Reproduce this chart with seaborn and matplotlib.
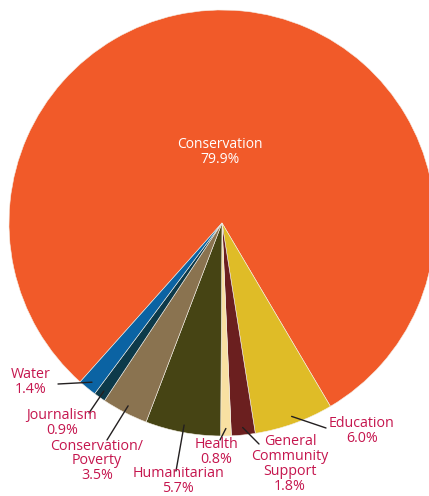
import numpy as np
import matplotlib
matplotlib.use('Agg')
import matplotlib.pyplot as plt
import seaborn as sns

# data
labels = ['Conservation', 'Education', 'General\nCommunity\nSupport', 'Health',
          'Humanitarian', 'Conservation/\nPoverty', 'Journalism', 'Water']
values = [79.9, 6.0, 1.8, 0.8, 5.7, 3.5, 0.9, 1.4]
colors = ['#f15a29', '#dfbc27', '#6b1f1f', '#f8e0a2', '#464414', '#8a7350', '#0d3a4a', '#0b63a3']

# label layout (pixel coords: text centre, leader line end)
text_pos = [(220, 152), (362, 431), (290, 464), (216, 452), (178, 481), (97, 461), (62, 423), (31, 382)]
line_end = [None, (326, 428), (259, 444), (220, 440), (176, 471), (107, 440), (89, 413), (58, 384)]

W, H = 429, 496
cx, cy, R = 222, 223, 213
start = -59.4 + 360 * values[0] / 100

sns.set_style('white')
plt.rcParams['font.family'] = ['Open Sans', 'DejaVu Sans']

fig = plt.figure(figsize=(W / 100, H / 100), dpi=100)
ax = fig.add_axes([0, 0, 1, 1])

wedges, _ = ax.pie(values, colors=colors, startangle=start, counterclock=False,
                   radius=R, center=(cx, H - cy),
                   wedgeprops=dict(edgecolor='#f4efe6', linewidth=0.4))

ax.set_xlim(0, W)
ax.set_ylim(0, H)
ax.set_aspect('equal')
ax.axis('off')

for i, (lab, v) in enumerate(zip(labels, values)):
    tx, ty = text_pos[i]
    txt = lab + '\n' + ('%.1f%%' % v)
    if i == 0:
        ax.text(tx, H - ty, txt, color='white', ha='center', va='center',
                fontsize=10, linespacing=1.0)
        continue
    w = wedges[i]
    mid = np.deg2rad((w.theta1 + w.theta2) / 2)
    x0 = cx + 0.965 * R * np.cos(mid)
    y0 = H - cy + 0.965 * R * np.sin(mid)
    ex, ey = line_end[i]
    ax.plot([x0, ex], [y0, H - ey], color='#231f20', lw=1.0)
    ax.text(tx, H - ty, txt, color='#c5164e', ha='center', va='center',
            fontsize=10.3, linespacing=0.98)

fig.savefig('out.png', dpi=100)
